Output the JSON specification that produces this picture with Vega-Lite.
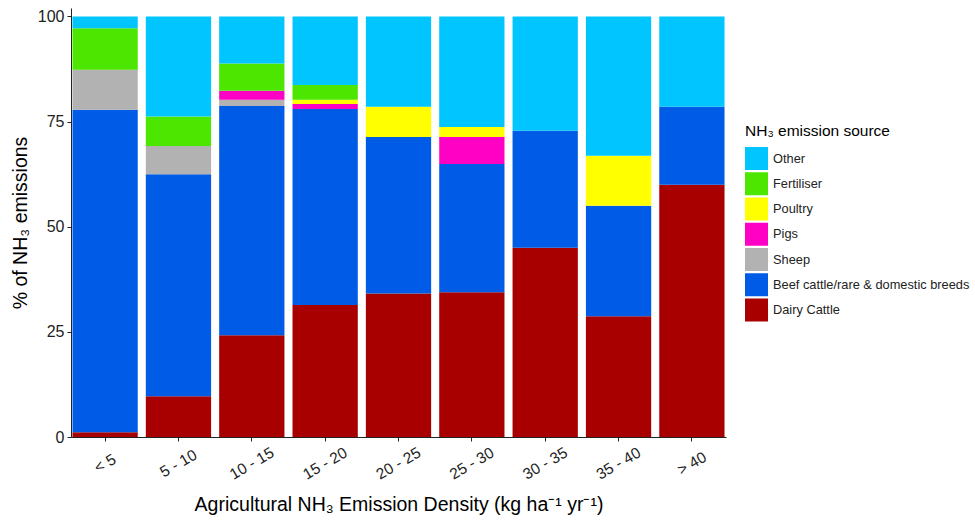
{
  "$schema": "https://vega.github.io/schema/vega-lite/v6.json",
  "width": 655,
  "height": 429,
  "autosize": {"type": "none"},
  "padding": {"left": 71, "top": 8, "right": 249, "bottom": 85},
  "background": "white",
  "config": {
    "view": {"stroke": null},
    "font": "Liberation Sans",
    "axis": {
      "domainColor": "#222222",
      "tickColor": "#222222",
      "labelColor": "#222222",
      "titleColor": "#000000",
      "titleFontWeight": "normal",
      "grid": false,
      "tickSize": 4,
      "domainWidth": 1,
      "tickWidth": 1
    },
    "legend": {
      "titleFontWeight": "normal",
      "titleColor": "#000000",
      "labelColor": "#222222"
    }
  },
  "data": {
    "values": [
      {"bin": "< 5", "source": "Dairy Cattle", "pct": 1.1},
      {"bin": "< 5", "source": "Beef cattle/rare & domestic breeds", "pct": 76.7},
      {"bin": "< 5", "source": "Sheep", "pct": 9.5},
      {"bin": "< 5", "source": "Fertiliser", "pct": 9.9},
      {"bin": "< 5", "source": "Other", "pct": 2.8},
      {"bin": "5 - 10", "source": "Dairy Cattle", "pct": 9.7},
      {"bin": "5 - 10", "source": "Beef cattle/rare & domestic breeds", "pct": 52.8},
      {"bin": "5 - 10", "source": "Sheep", "pct": 6.7},
      {"bin": "5 - 10", "source": "Fertiliser", "pct": 7.0},
      {"bin": "5 - 10", "source": "Other", "pct": 23.8},
      {"bin": "10 - 15", "source": "Dairy Cattle", "pct": 24.2},
      {"bin": "10 - 15", "source": "Beef cattle/rare & domestic breeds", "pct": 54.5},
      {"bin": "10 - 15", "source": "Sheep", "pct": 1.5},
      {"bin": "10 - 15", "source": "Pigs", "pct": 2.1},
      {"bin": "10 - 15", "source": "Fertiliser", "pct": 6.5},
      {"bin": "10 - 15", "source": "Other", "pct": 11.2},
      {"bin": "15 - 20", "source": "Dairy Cattle", "pct": 31.4},
      {"bin": "15 - 20", "source": "Beef cattle/rare & domestic breeds", "pct": 46.6},
      {"bin": "15 - 20", "source": "Pigs", "pct": 1.2},
      {"bin": "15 - 20", "source": "Poultry", "pct": 1.0},
      {"bin": "15 - 20", "source": "Fertiliser", "pct": 3.5},
      {"bin": "15 - 20", "source": "Other", "pct": 16.3},
      {"bin": "20 - 25", "source": "Dairy Cattle", "pct": 34.1},
      {"bin": "20 - 25", "source": "Beef cattle/rare & domestic breeds", "pct": 37.2},
      {"bin": "20 - 25", "source": "Poultry", "pct": 7.2},
      {"bin": "20 - 25", "source": "Other", "pct": 21.5},
      {"bin": "25 - 30", "source": "Dairy Cattle", "pct": 34.4},
      {"bin": "25 - 30", "source": "Beef cattle/rare & domestic breeds", "pct": 30.5},
      {"bin": "25 - 30", "source": "Pigs", "pct": 6.4},
      {"bin": "25 - 30", "source": "Poultry", "pct": 2.4},
      {"bin": "25 - 30", "source": "Other", "pct": 26.3},
      {"bin": "30 - 35", "source": "Dairy Cattle", "pct": 45.0},
      {"bin": "30 - 35", "source": "Beef cattle/rare & domestic breeds", "pct": 27.8},
      {"bin": "30 - 35", "source": "Other", "pct": 27.2},
      {"bin": "35 - 40", "source": "Dairy Cattle", "pct": 28.7},
      {"bin": "35 - 40", "source": "Beef cattle/rare & domestic breeds", "pct": 26.3},
      {"bin": "35 - 40", "source": "Poultry", "pct": 11.9},
      {"bin": "35 - 40", "source": "Other", "pct": 33.1},
      {"bin": "> 40", "source": "Dairy Cattle", "pct": 60.0},
      {"bin": "> 40", "source": "Beef cattle/rare & domestic breeds", "pct": 18.5},
      {"bin": "> 40", "source": "Other", "pct": 21.5}
    ]
  },
  "transform": [
    {"calculate": "indexof(['Dairy Cattle','Beef cattle/rare & domestic breeds','Sheep','Pigs','Poultry','Fertiliser','Other'], datum.source)", "as": "stackOrder"}
  ],
  "mark": {"type": "bar", "strokeWidth": 0},
  "encoding": {
    "x": {
      "field": "bin",
      "type": "nominal",
      "sort": ["< 5", "5 - 10", "10 - 15", "15 - 20", "20 - 25", "25 - 30", "30 - 35", "35 - 40", "> 40"],
      "scale": {"paddingInner": 0.11, "paddingOuter": 0.02},
      "axis": {
        "title": "Agricultural NH₃ Emission Density (kg ha⁻¹ yr⁻¹)",
        "titleFontSize": 19.5,
        "titleY": 67,
        "titleBaseline": "middle",
        "labelAngle": -30,
        "labelAlign": "center",
        "labelBaseline": "middle",
        "labelPadding": 22,
        "labelDx": 2,
        "labelFontSize": 15.5
      }
    },
    "y": {
      "field": "pct",
      "type": "quantitative",
      "stack": "zero",
      "scale": {"domain": [0, 102], "nice": false, "zero": true},
      "axis": {
        "title": "% of NH₃ emissions",
        "values": [0, 25, 50, 75, 100],
        "titleFontSize": 19.5,
        "titleX": -51,
        "titleBaseline": "middle",
        "labelFontSize": 16,
        "labelPadding": 3
      }
    },
    "color": {
      "field": "source",
      "type": "nominal",
      "scale": {
        "domain": ["Other", "Fertiliser", "Poultry", "Pigs", "Sheep", "Beef cattle/rare & domestic breeds", "Dairy Cattle"],
        "range": ["#00C5FF", "#4CE600", "#FFFF00", "#FF00C5", "#B2B2B2", "#005CE6", "#A80000"]
      },
      "legend": {
        "title": "NH₃ emission source",
        "orient": "none",
        "legendX": 674,
        "legendY": 115.5,
        "titleFontSize": 15.5,
        "titlePadding": 8,
        "labelFontSize": 12.8,
        "labelLimit": 0,
        "labelOffset": 5,
        "symbolType": "square",
        "symbolSize": 529,
        "symbolStrokeWidth": 0,
        "symbolOpacity": 1,
        "rowPadding": 2.25
      }
    },
    "order": {"field": "stackOrder", "type": "quantitative", "sort": "ascending"}
  }
}
